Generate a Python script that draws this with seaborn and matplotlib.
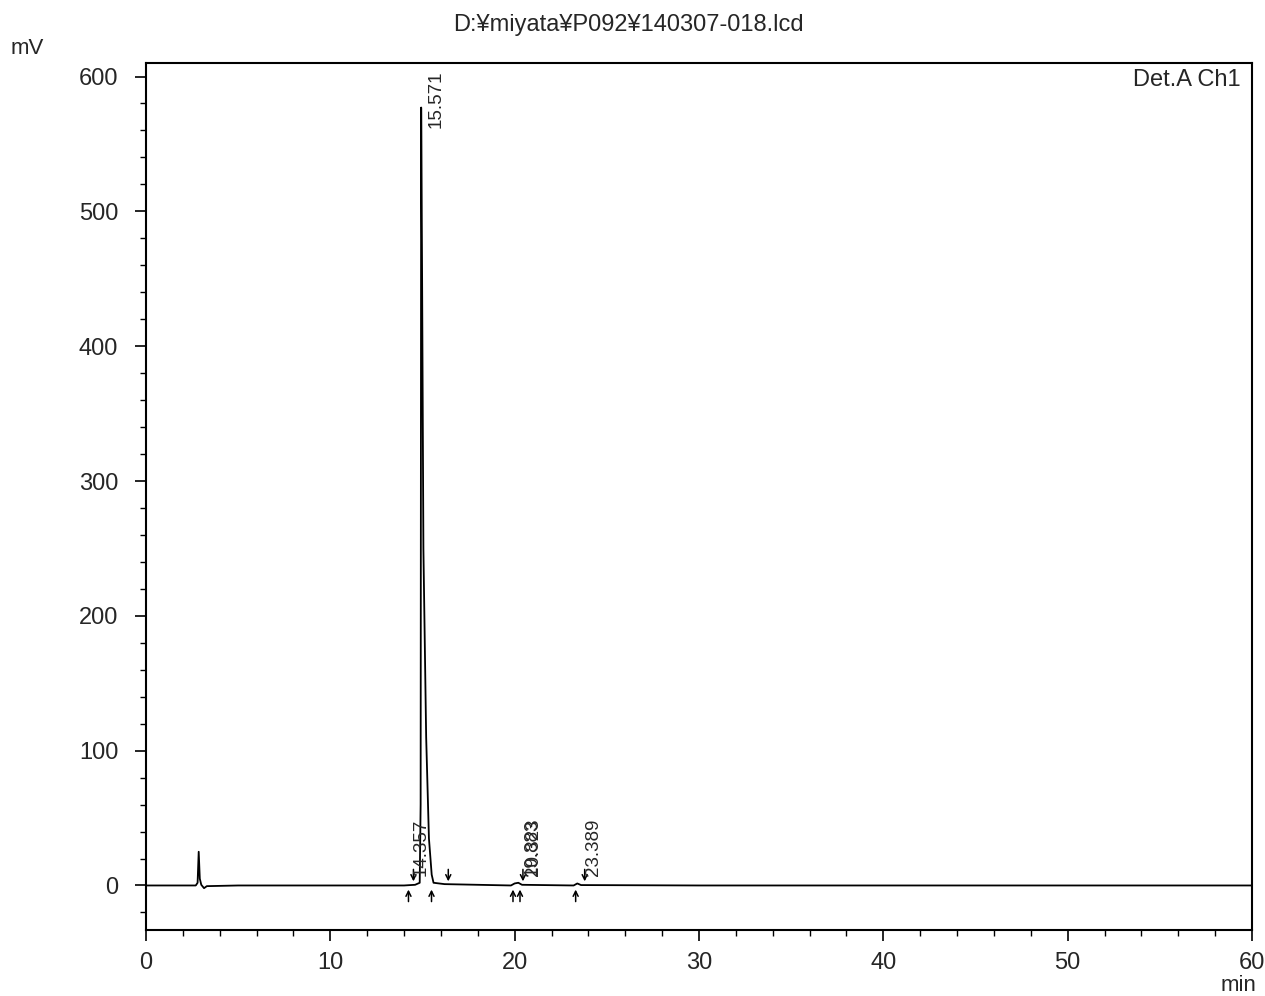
"""Recreate the LC chromatogram (Det.A Ch1) for 140307-018.lcd."""

import matplotlib

matplotlib.use("Agg")
import matplotlib.pyplot as plt
import pandas as pd
import seaborn as sns
from matplotlib.ticker import MultipleLocator

# trace (min, mV)
TIME = [0.0, 2.70, 2.80, 2.86, 2.92, 3.00, 3.15, 3.30, 5.0, 10.0, 14.0,
        14.60, 14.85, 14.90, 14.93, 14.98, 15.05, 15.20, 15.35, 15.50, 15.60,
        16.20, 19.80, 20.00, 20.20, 20.40, 23.20, 23.40, 23.60, 30.0, 40.0,
        50.0, 60.0]
SIGNAL = [0.0, 0.0, 2.0, 25.0, 5.0, 0.5, -2.0, -0.5, 0.0, 0.0, 0.0,
          0.5, 2.0, 60.0, 577.0, 450.0, 250.0, 110.0, 35.0, 8.0, 2.0,
          1.0, 0.0, 1.5, 2.0, 0.5, 0.0, 1.5, 0.3, 0.0, 0.0,
          0.0, 0.0]

# peak labels: text, x position, y position of text bottom
PEAK_LABELS = ["14.357", "15.571", "19.883", "20.323", "23.389"]
LABEL_X = [14.95, 15.75, 20.95, 21.05, 24.3]
LABEL_Y = [7, 562, 7, 7, 7]

# integration markers: down arrows above baseline, up arrows below it
DOWN_MARKS = [14.51, 16.40, 20.45, 23.80]
UP_MARKS = [14.24, 15.49, 19.91, 20.29, 23.31]

TITLE = "D:¥miyata¥P092¥140307-018.lcd"


def main() -> None:
    sns.set_style("ticks")
    plt.rcParams["font.family"] = ["Liberation Sans", "DejaVu Sans"]

    fig = plt.figure(figsize=(12.65, 9.96), dpi=100)
    ax = fig.add_axes([0.1154, 0.0663, 0.8743, 0.8704])

    df = pd.DataFrame({"time": TIME, "signal": SIGNAL})
    sns.lineplot(data=df, x="time", y="signal", sort=False, color="black",
                 linewidth=1.3, ax=ax)

    for t in DOWN_MARKS:
        ax.annotate("", xy=(t, 1), xytext=(t, 14),
                    arrowprops=dict(arrowstyle="->", lw=1.1, color="black",
                                    mutation_scale=9))
    for t in UP_MARKS:
        ax.annotate("", xy=(t, -1), xytext=(t, -14),
                    arrowprops=dict(arrowstyle="->", lw=1.1, color="black",
                                    mutation_scale=9))

    for text, x, y in zip(PEAK_LABELS, LABEL_X, LABEL_Y):
        ax.text(x, y, text, rotation=90, ha="center", va="bottom",
                fontsize=13.5)

    ax.set_xlim(0, 60)
    ax.set_ylim(-33, 610)
    ax.xaxis.set_major_locator(MultipleLocator(10))
    ax.xaxis.set_minor_locator(MultipleLocator(2))
    ax.yaxis.set_major_locator(MultipleLocator(100))
    ax.yaxis.set_minor_locator(MultipleLocator(20))
    ax.tick_params(axis="both", which="major", direction="out", length=8,
                   width=1.2, labelsize=17, color="black")
    ax.tick_params(axis="both", which="minor", direction="out", length=4,
                   width=1.0, color="black")
    ax.tick_params(axis="x", which="major", pad=8)
    ax.tick_params(axis="y", which="major", pad=12)
    for side in ax.spines.values():
        side.set_visible(True)
        side.set_linewidth(1.5)
        side.set_color("black")
    ax.set_xlabel("")
    ax.set_ylabel("")

    ax.text(0.99, 0.993, "Det.A Ch1", transform=ax.transAxes, ha="right",
            va="top", fontsize=17)
    fig.text(0.4965, 0.975, TITLE, ha="center", va="center", fontsize=17)
    fig.text(0.0213, 0.951, "mV", ha="center", va="center", fontsize=16)
    fig.text(0.979, 0.011, "min", ha="center", va="center", fontsize=16)

    fig.savefig("out.png", dpi=100, facecolor="white")
    plt.close(fig)


if __name__ == "__main__":
    main()
